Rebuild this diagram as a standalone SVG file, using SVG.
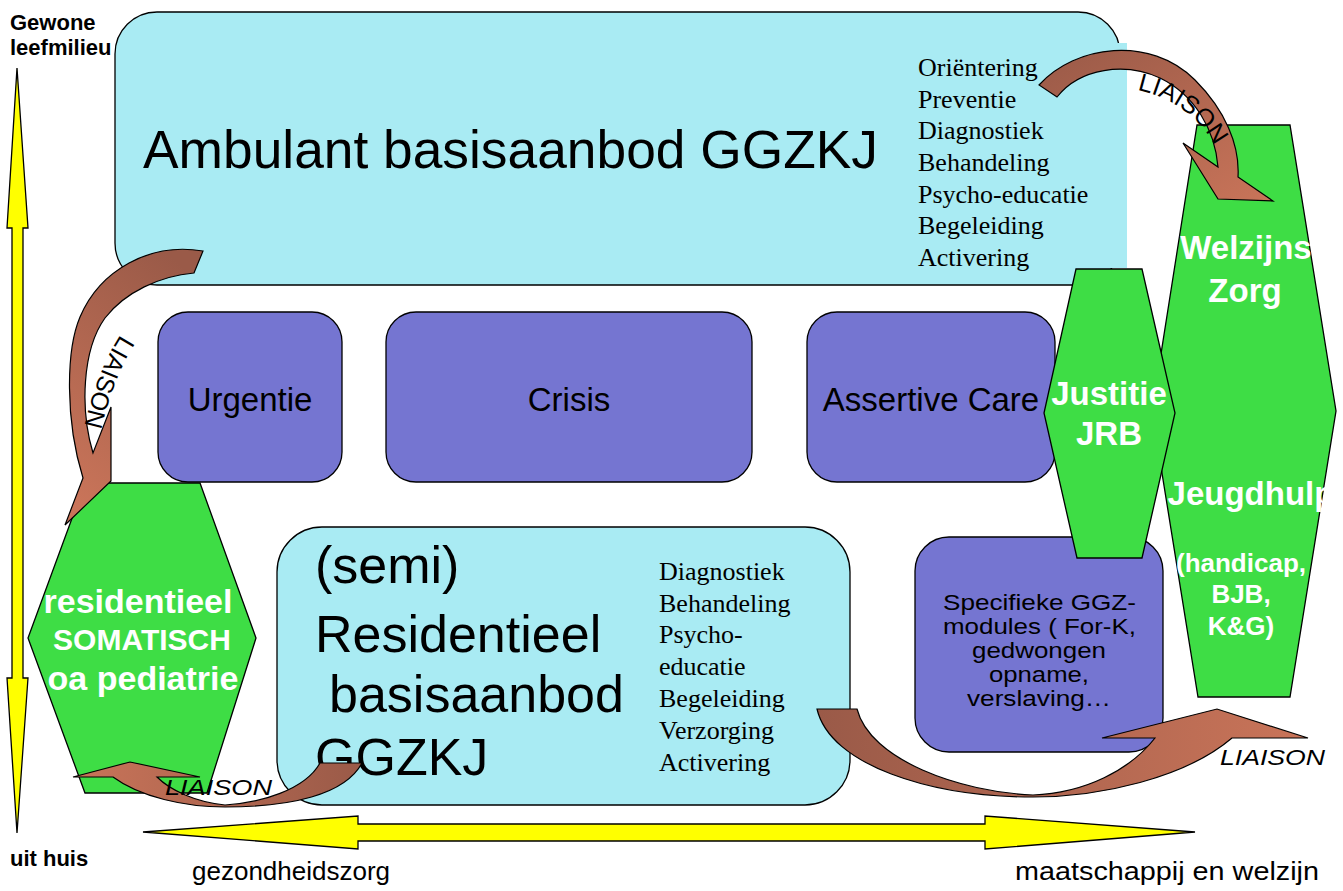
<svg xmlns="http://www.w3.org/2000/svg" width="1343" height="891" viewBox="0 0 1343 891">
<style>
.box{fill:#A9EBF3;stroke:#000;stroke-width:1.3}
.pur{fill:#7575D1;stroke:#000;stroke-width:1.3}
.hex{fill:#3EDD45;stroke:#000;stroke-width:1.3}
.yel{fill:#FFFF00;stroke:#000;stroke-width:1.3}
.arr{stroke:#000;stroke-width:1.2}
.sans{font-family:"Liberation Sans",Arial,sans-serif;fill:#000}
.serif{font-family:"Liberation Serif","Times New Roman",serif;font-size:26px;fill:#000}
.wb{font-family:"Liberation Sans",Arial,sans-serif;font-weight:bold;fill:#fff;text-anchor:middle}
.lab{font-family:"Liberation Sans",Arial,sans-serif;fill:#000}
</style>
<defs>
<linearGradient id="gTR" x1="0" y1="0" x2="1" y2="1"><stop offset="0" stop-color="#9A5A48"/><stop offset="1" stop-color="#C97459"/></linearGradient>
<linearGradient id="gL" x1="0.7" y1="0" x2="0.3" y2="1"><stop offset="0" stop-color="#9A5A48"/><stop offset="1" stop-color="#C97459"/></linearGradient>
<linearGradient id="gBL" x1="1" y1="0" x2="0" y2="0"><stop offset="0" stop-color="#9A5A48"/><stop offset="1" stop-color="#C97459"/></linearGradient>
<linearGradient id="gBR" x1="0" y1="0" x2="1" y2="0"><stop offset="0" stop-color="#9A5A48"/><stop offset="1" stop-color="#C97459"/></linearGradient>
<path id="tpTR" d="M 1126,88 Q 1194,98 1220,156"/>
<path id="tpL" d="M 138,312 Q 95,358 79,454"/>
</defs>

<g id="ambulant">
<rect class="box" x="115" y="12" width="1005" height="273" rx="42"/>
<rect x="880" y="43" width="247" height="225" fill="#A9EBF3"/>
<text class="sans" x="143" y="168" font-size="53" textLength="735" lengthAdjust="spacingAndGlyphs">Ambulant basisaanbod GGZKJ</text>
<text class="serif" x="918" y="76">Oriëntering</text>
<text class="serif" x="918" y="108">Preventie</text>
<text class="serif" x="918" y="139">Diagnostiek</text>
<text class="serif" x="918" y="171">Behandeling</text>
<text class="serif" x="918" y="203">Psycho-educatie</text>
<text class="serif" x="918" y="234">Begeleiding</text>
<text class="serif" x="918" y="266">Activering</text>
</g>

<g id="urgentie">
<rect class="pur" x="158" y="312" width="184" height="170" rx="30"/>
<text class="sans" x="250" y="411" font-size="33" text-anchor="middle">Urgentie</text>
</g>
<g id="crisis">
<rect class="pur" x="386" y="312" width="366" height="170" rx="30"/>
<text class="sans" x="569" y="411" font-size="33" text-anchor="middle">Crisis</text>
</g>
<g id="assertive">
<rect class="pur" x="807" y="312" width="248" height="170" rx="30"/>
<text class="sans" x="931" y="411" font-size="33" text-anchor="middle">Assertive Care</text>
</g>

<g id="welzijn">
<polygon class="hex" points="1197,125 1290,125 1336,411 1290,697 1198,697 1152,411"/>
<text class="wb" x="1246" y="259" font-size="33">Welzijns</text>
<text class="wb" x="1245" y="302" font-size="33">Zorg</text>
<text class="wb" x="1251" y="505" font-size="33">Jeugdhulp</text>
<text class="wb" x="1241" y="572" font-size="26">(handicap,</text>
<text class="wb" x="1241" y="603" font-size="26">BJB,</text>
<text class="wb" x="1241" y="635" font-size="26">K&amp;G)</text>
</g>

<g id="specifieke">
<rect class="pur" x="915" y="537" width="248" height="215" rx="34"/>
<text class="sans" font-size="22">
<tspan x="943" y="610" textLength="193" lengthAdjust="spacingAndGlyphs">Specifieke GGZ-</tspan>
<tspan x="943" y="634" textLength="193" lengthAdjust="spacingAndGlyphs">modules ( For-K,</tspan>
<tspan x="972" y="658" textLength="134" lengthAdjust="spacingAndGlyphs">gedwongen</tspan>
<tspan x="989" y="682" textLength="100" lengthAdjust="spacingAndGlyphs">opname,</tspan>
<tspan x="967" y="706" textLength="144" lengthAdjust="spacingAndGlyphs">verslaving…</tspan>
</text>
</g>

<g id="justitie">
<polygon class="hex" points="1076,269 1142,269 1175,413 1142,558 1077,558 1044,413"/>
<text class="wb" x="1109" y="405" font-size="33">Justitie</text>
<text class="wb" x="1109" y="445" font-size="33">JRB</text>
</g>

<g id="somatisch">
<polygon class="hex" points="85,483 200,483 256,638 207,793 85,793 28,638"/>
<text class="wb" x="138" y="613" font-size="34">residentieel</text>
<text class="wb" x="142" y="650" font-size="30">SOMATISCH</text>
<text class="wb" x="143" y="690" font-size="34">oa pediatrie</text>
</g>

<g id="residentieel">
<rect class="box" x="277" y="527" width="573" height="278" rx="45"/>
<text class="sans" x="315" y="583" font-size="52">(semi)</text>
<text class="sans" x="315" y="652" font-size="52">Residentieel</text>
<text class="sans" x="329" y="712" font-size="52">basisaanbod</text>
<text class="sans" x="315" y="775" font-size="52">GGZKJ</text>
<text class="serif" x="659" y="580">Diagnostiek</text>
<text class="serif" x="659" y="612">Behandeling</text>
<text class="serif" x="659" y="643">Psycho-</text>
<text class="serif" x="659" y="675">educatie</text>
<text class="serif" x="659" y="707">Begeleiding</text>
<text class="serif" x="659" y="739">Verzorging</text>
<text class="serif" x="659" y="771">Activering</text>
</g>

<g id="axes">
<polygon class="yel" points="17,68 28,228 23,228 23,678 28,678 17,833 7,678 12,678 12,228 7,228"/>
<polygon class="yel" points="143,832 358,816 358,824 985,824 985,816 1195,832 985,849 985,841 358,841 358,849"/>
<text class="sans" x="10" y="30" font-size="22" font-weight="bold">Gewone</text>
<text class="sans" x="10" y="55" font-size="22" font-weight="bold">leefmilieu</text>
<text class="sans" x="10" y="866" font-size="22" font-weight="bold">uit huis</text>
<text class="sans" x="192" y="880" font-size="26">gezondheidszorg</text>
<text class="sans" x="1015" y="880" font-size="26" textLength="304" lengthAdjust="spacingAndGlyphs">maatschappij en welzijn</text>
</g>

<g id="connectors">
<path class="arr" fill="url(#gTR)" d="M 1039,85 C 1075,45 1150,35 1195,80 C 1225,110 1240,145 1238,177 L 1273,201 L 1218,199 L 1183,143 L 1218,167 C 1215,130 1195,95 1160,78 C 1125,62 1080,68 1057,97 Z"/>
<text class="lab" style="font-size:25px"><textPath href="#tpTR" startOffset="50%" text-anchor="middle">LIAISON</textPath></text>

<path class="arr" fill="url(#gL)" d="M 203,251 C 150,242 100,270 80,317 C 66,350 65,420 83,478 L 65,525 L 111,481 L 111,407 L 93,453 C 80,410 82,350 105,318 C 125,292 160,276 194,273 Z"/>
<text class="lab" style="font-size:25px"><textPath href="#tpL" startOffset="50%" text-anchor="middle">LIAISON</textPath></text>

<path class="arr" fill="url(#gBL)" d="M 362,763 L 320,763 C 305,790 260,803 225,805 C 195,802 170,790 157,777 L 200,777 L 130,762 L 73,777 L 113,777 C 140,797 185,807 225,807 C 290,807 345,795 362,763 Z"/>
<text class="lab" x="165" y="795" font-size="22" font-style="italic" textLength="107" lengthAdjust="spacingAndGlyphs">LIAISON</text>

<path class="arr" fill="url(#gBR)" d="M 817,709 L 857,709 C 870,760 960,792 1033,795 C 1085,793 1130,770 1155,738 L 1102,738 L 1217,709 L 1308,738 L 1232,738 C 1185,778 1100,797 1033,797 C 930,797 830,765 817,709 Z"/>
<text class="lab" x="1220" y="765" font-size="22" font-style="italic" textLength="105" lengthAdjust="spacingAndGlyphs">LIAISON</text>
</g>
</svg>
